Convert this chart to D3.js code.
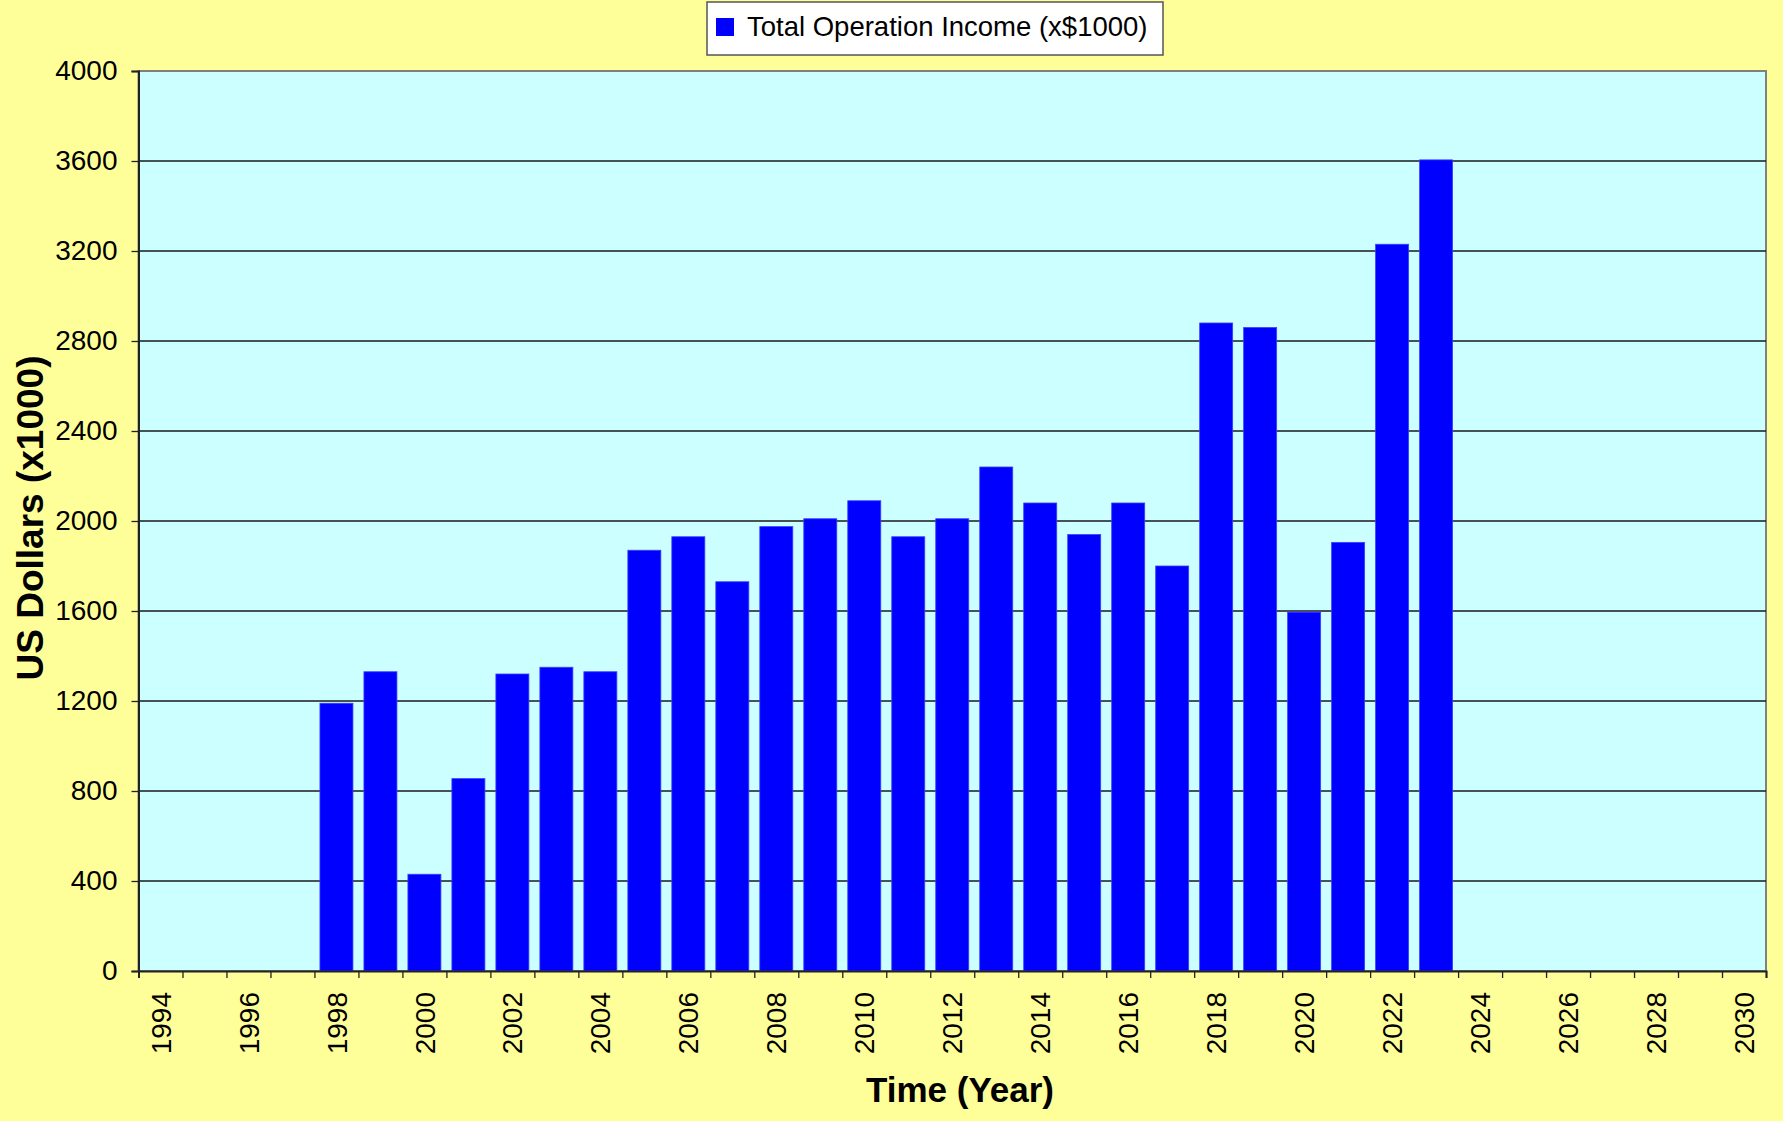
<!DOCTYPE html>
<html>
<head>
<meta charset="utf-8">
<script src="https://cdn.jsdelivr.net/npm/d3@7"></script>
<style>
  html, body { margin: 0; padding: 0; background: #ffff99; }
  svg { display: block; font-family: 'Liberation Sans', Arial, sans-serif; }
</style>
</head>
<body>
<div id="app"></div>
<script>
// categories (one per year)
const years = [
  1994, 1995, 1996, 1997, 1998, 1999, 2000, 2001, 2002, 2003, 2004, 2005, 2006,
  2007, 2008, 2009, 2010, 2011, 2012, 2013, 2014, 2015, 2016, 2017, 2018, 2019,
  2020, 2021, 2022, 2023, 2024, 2025, 2026, 2027, 2028, 2029, 2030,
];

// Total Operation Income (x$1000), null where there is no bar
const income = [
  null, null, null, null, 1190, 1330, 430, 855, 1320, 1350, 1330, 1870, 1930,
  1730, 1975, 2010, 2090, 1930, 2010, 2240, 2080, 1940, 2080, 1800, 2880, 2860,
  1595, 1905, 3230, 3605, null, null, null, null, null, null, null,
];

const xTickLabels = [
  1994, 1996, 1998, 2000, 2002, 2004, 2006, 2008, 2010, 2012, 2014, 2016, 2018,
  2020, 2022, 2024, 2026, 2028, 2030,
];
const yTicks = [0, 400, 800, 1200, 1600, 2000, 2400, 2800, 3200, 3600, 4000];

const seriesName = 'Total Operation Income (x$1000)';

const width = 1783;
const height = 1121;
const plot = { left: 138.5, right: 1766, top: 71, bottom: 971 };
const font = "'Liberation Sans', Arial, sans-serif";

const svg = d3
  .select('div#app')
  .append('svg')
  .attr('width', width)
  .attr('height', height);

svg.append('rect').attr('width', width).attr('height', height).attr('fill', '#ffff99');

const x = d3
  .scaleBand()
  .domain(years)
  .range([plot.left, plot.right])
  .paddingInner(0.25)
  .paddingOuter(0.125);

// boundaries between categories, for the tick marks
const xEdge = d3
  .scaleLinear()
  .domain([0, years.length])
  .range([plot.left, plot.right]);

const y = d3.scaleLinear().domain([0, 4000]).range([plot.bottom, plot.top]);

// plot area
svg
  .append('rect')
  .attr('x', plot.left)
  .attr('y', plot.top)
  .attr('width', plot.right - plot.left)
  .attr('height', plot.bottom - plot.top)
  .attr('fill', '#ccffff')
  .attr('stroke', '#808080')
  .attr('stroke-width', 2);

// gridlines
svg
  .append('g')
  .selectAll('line')
  .data(yTicks.filter((d) => d > 0 && d < 4000))
  .join('line')
  .attr('x1', plot.left)
  .attr('x2', plot.right)
  .attr('y1', (d) => y(d))
  .attr('y2', (d) => y(d))
  .attr('stroke', '#1a1a1a')
  .attr('stroke-width', 1.3);

// bars
const barData = years
  .map((year, i) => ({ year, value: income[i] }))
  .filter((d) => d.value != null);

svg
  .append('g')
  .selectAll('rect')
  .data(barData)
  .join('rect')
  .attr('x', (d) => x(d.year))
  .attr('y', (d) => y(d.value))
  .attr('width', x.bandwidth())
  .attr('height', (d) => y(0) - y(d.value))
  .attr('fill', '#0000ff')
  .attr('stroke', '#3d3dff')
  .attr('stroke-width', 0.8);

// y axis
svg
  .append('g')
  .attr('transform', `translate(${plot.left},0)`)
  .call(
    d3
      .axisLeft(y)
      .tickValues(yTicks)
      .tickSize(7)
      .tickPadding(14)
      .tickFormat(d3.format('d')),
  )
  .call((g) => {
    g.select('.domain').attr('stroke', '#222').attr('stroke-width', 2);
    g.selectAll('.tick line').attr('stroke', '#222').attr('stroke-width', 1.3);
    g.selectAll('.tick text')
      .attr('font-size', 28)
      .attr('fill', '#000')
      .attr('font-family', font);
  });

// x axis tick marks at category edges
svg
  .append('g')
  .attr('transform', `translate(0,${plot.bottom})`)
  .call(
    d3
      .axisBottom(xEdge)
      .tickValues(d3.range(years.length + 1))
      .tickSize(7)
      .tickFormat(''),
  )
  .call((g) => {
    g.select('.domain').attr('stroke', '#222').attr('stroke-width', 2);
    g.selectAll('.tick line').attr('stroke', '#222').attr('stroke-width', 1.3);
  });

// x axis labels, every other year
svg
  .append('g')
  .attr('transform', `translate(0,${plot.bottom})`)
  .call(d3.axisBottom(x).tickValues(xTickLabels).tickSize(0))
  .call((g) => {
    g.select('.domain').remove();
    g.selectAll('.tick text')
      .attr('transform', 'rotate(-90)')
      .attr('text-anchor', 'end')
      .attr('x', -21)
      .attr('y', 0)
      .attr('dy', '0.36em')
      .attr('font-size', 28)
      .attr('fill', '#000')
      .attr('font-family', font);
  });

// axis titles
svg
  .append('text')
  .attr('x', 960)
  .attr('y', 1102)
  .attr('text-anchor', 'middle')
  .attr('font-size', 35)
  .attr('font-weight', 'bold')
  .text('Time (Year)');

svg
  .append('text')
  .attr('transform', 'translate(43,518) rotate(-90)')
  .attr('text-anchor', 'middle')
  .attr('font-size', 37)
  .attr('font-weight', 'bold')
  .text('US Dollars (x1000)');

// legend
const legend = svg.append('g');
legend
  .append('rect')
  .attr('x', 707)
  .attr('y', 2)
  .attr('width', 456)
  .attr('height', 53)
  .attr('fill', '#fff')
  .attr('stroke', '#555')
  .attr('stroke-width', 1.5);
legend
  .append('rect')
  .attr('x', 716)
  .attr('y', 18)
  .attr('width', 18)
  .attr('height', 18)
  .attr('fill', '#0000ff');
legend
  .append('text')
  .attr('x', 747)
  .attr('y', 36)
  .attr('font-size', 27.5)
  .text(seriesName);
</script>
</body>
</html>
